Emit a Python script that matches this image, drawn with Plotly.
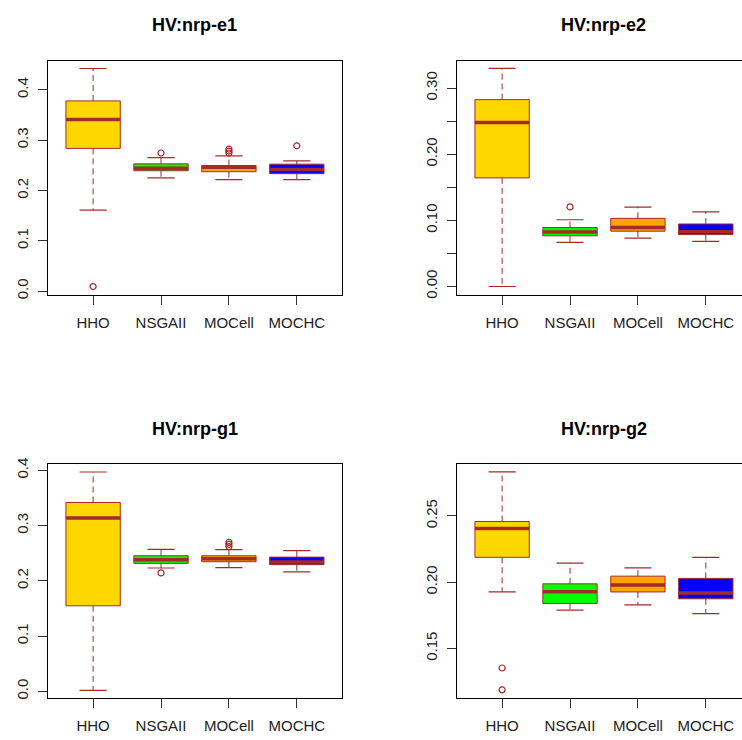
import plotly.graph_objects as go

# ---------------- data ----------------
ALGOS = ["HHO", "NSGAII", "MOCell", "MOCHC"]
TITLES = ["HV:nrp-e1", "HV:nrp-e2", "HV:nrp-g1", "HV:nrp-g2"]

# nrp-e1
e1_low = [0.161, 0.2249, 0.2216, 0.2216]
e1_q1 = [0.2837, 0.2392, 0.2373, 0.2333]
e1_med = [0.341, 0.2441, 0.2463, 0.2415]
e1_q3 = [0.378, 0.2529, 0.2496, 0.2523]
e1_up = [0.4425, 0.2653, 0.2686, 0.2588]
e1_out = [[0.009], [0.2745], [0.2745, 0.2784, 0.2824], [0.2888]]

# nrp-e2
e2_low = [0.0, 0.0666, 0.0731, 0.0681]
e2_q1 = [0.1642, 0.0766, 0.0836, 0.0785]
e2_med = [0.2478, 0.0825, 0.0890, 0.0828]
e2_q3 = [0.2825, 0.0891, 0.1030, 0.0945]
e2_up = [0.3298, 0.1009, 0.1199, 0.1128]
e2_out = [[], [0.1203], [], []]

# nrp-g1
g1_low = [0.0018, 0.2232, 0.2239, 0.2161]
g1_q1 = [0.1548, 0.2316, 0.2346, 0.2293]
g1_med = [0.3137, 0.2382, 0.2400, 0.2340]
g1_q3 = [0.3418, 0.2454, 0.2454, 0.2429]
g1_up = [0.397, 0.2571, 0.2566, 0.2548]
g1_out = [[], [0.2143], [0.2620, 0.2661, 0.2696], []]

# nrp-g2
g2_low = [0.1927, 0.1790, 0.1830, 0.1763]
g2_q1 = [0.2188, 0.1840, 0.1927, 0.1875]
g2_med = [0.2406, 0.1929, 0.1979, 0.1918]
g2_q3 = [0.2458, 0.1988, 0.2046, 0.2029]
g2_up = [0.2833, 0.2145, 0.2108, 0.2188]
g2_out = [[0.1353, 0.1188], [], [], []]

# y ticks per panel
e1_ticks = [0.0, 0.1, 0.2, 0.3, 0.4]
e1_ticktext = ["0.0", "0.1", "0.2", "0.3", "0.4"]
e2_ticks = [0.0, 0.05, 0.10, 0.15, 0.20, 0.25, 0.30]
e2_ticktext = ["0.00", "", "0.10", "", "0.20", "", "0.30"]
g1_ticks = [0.0, 0.1, 0.2, 0.3, 0.4]
g1_ticktext = ["0.0", "0.1", "0.2", "0.3", "0.4"]
g2_ticks = [0.15, 0.20, 0.25]
g2_ticktext = ["0.15", "0.20", "0.25"]

# ---------------- style ----------------
FILLS = ["#FFD700", "#00FF00", "#FFA500", "#0000FF"]
BROWN = "#A52A2A"
FONT = "Liberation Sans, Arial, sans-serif"
BOXW = 0.8
STAPLEW = 0.4
W, H = 742, 740

panels = [
    dict(low=e1_low, q1=e1_q1, med=e1_med, q3=e1_q3, up=e1_up, out=e1_out,
         ticks=e1_ticks, ticktext=e1_ticktext, yr=[-0.0073, 0.4575]),
    dict(low=e2_low, q1=e2_q1, med=e2_med, q3=e2_q3, up=e2_up, out=e2_out,
         ticks=e2_ticks, ticktext=e2_ticktext, yr=[-0.0125, 0.341]),
    dict(low=g1_low, q1=g1_q1, med=g1_med, q3=g1_q3, up=g1_up, out=g1_out,
         ticks=g1_ticks, ticktext=g1_ticktext, yr=[-0.0125, 0.4114]),
    dict(low=g2_low, q1=g2_q1, med=g2_med, q3=g2_q3, up=g2_up, out=g2_out,
         ticks=g2_ticks, ticktext=g2_ticktext, yr=[0.1125, 0.2892]),
]

# layout geometry in pixels (left, right, top, bottom)
geo = [
    (48.3, 341.7, 55.7, 292.7),
    (457.3, 742.0, 55.7, 292.7),
    (48.3, 341.7, 464.3, 701.7),
    (457.3, 742.0, 464.3, 701.7),
]
XUNIT = 67.9  # pixels per category unit
title_y = [19, 19, 429, 429]

fig = go.Figure()
pos = [1, 2, 3, 4]

for k, p in enumerate(panels):
    xa = "x" if k == 0 else f"x{k+1}"
    ya = "y" if k == 0 else f"y{k+1}"
    # boxes
    fig.add_trace(go.Bar(
        x=pos, y=[b - a for a, b in zip(p["q1"], p["q3"])], base=p["q1"],
        width=BOXW, marker=dict(color=FILLS, line=dict(color=BROWN, width=1)),
        xaxis=xa, yaxis=ya, showlegend=False, hoverinfo="skip"))
    # whiskers (dashed)
    wx, wy = [], []
    for i, x in enumerate(pos):
        wx += [x, x, None, x, x, None]
        wy += [p["q3"][i], p["up"][i], None, p["q1"][i], p["low"][i], None]
    fig.add_trace(go.Scatter(x=wx, y=wy, mode="lines",
                             line=dict(color=BROWN, width=1, dash="6px,4px"),
                             xaxis=xa, yaxis=ya, showlegend=False, hoverinfo="skip"))
    # staples
    sx, sy = [], []
    for i, x in enumerate(pos):
        for v in (p["up"][i], p["low"][i]):
            sx += [x - STAPLEW / 2, x + STAPLEW / 2, None]
            sy += [v, v, None]
    fig.add_trace(go.Scatter(x=sx, y=sy, mode="lines",
                             line=dict(color=BROWN, width=1.2),
                             xaxis=xa, yaxis=ya, showlegend=False, hoverinfo="skip"))
    # medians
    mx, my = [], []
    for i, x in enumerate(pos):
        mx += [x - BOXW / 2, x + BOXW / 2, None]
        my += [p["med"][i], p["med"][i], None]
    fig.add_trace(go.Scatter(x=mx, y=my, mode="lines",
                             line=dict(color=BROWN, width=3.5),
                             xaxis=xa, yaxis=ya, showlegend=False, hoverinfo="skip"))
    # outliers
    ox, oy = [], []
    for i, x in enumerate(pos):
        for v in p["out"][i]:
            ox.append(x)
            oy.append(v)
    if ox:
        fig.add_trace(go.Scatter(x=ox, y=oy, mode="markers",
                                 marker=dict(symbol="circle-open", size=6,
                                             color=BROWN, line=dict(width=1.2)),
                                 xaxis=xa, yaxis=ya, showlegend=False, hoverinfo="skip"))

    l, r, t, b = geo[k]
    xr = [0.34, 0.34 + (r - l) / XUNIT]
    full_box = r < W - 1
    axkey_x = "xaxis" if k == 0 else f"xaxis{k+1}"
    axkey_y = "yaxis" if k == 0 else f"yaxis{k+1}"
    fig.layout[axkey_x] = dict(
        domain=[l / W, r / W], range=xr, anchor=ya,
        tickvals=pos, ticktext=ALGOS, ticks="outside", ticklen=9,
        tickcolor="#333", showline=True, linecolor="black", linewidth=1.2,
        mirror=True, showgrid=False, zeroline=False, fixedrange=True,
        ticklabelstandoff=5,
        tickfont=dict(family=FONT, size=15, color="#222"))
    fig.layout[axkey_y] = dict(
        domain=[1 - b / H, 1 - t / H], range=p["yr"], anchor=xa,
        tickvals=p["ticks"], ticktext=p["ticktext"], ticks="outside", ticklen=9,
        tickcolor="#333", tickangle=-90, showline=True, linecolor="black",
        linewidth=1.2, mirror=full_box, showgrid=False, zeroline=False,
        fixedrange=True, ticklabelstandoff=4,
        tickfont=dict(family=FONT, size=15, color="#222"))
    cx = (l + l + 4.32 * XUNIT) / 2
    fig.add_annotation(text=f"<b>{TITLES[k]}</b>", xref="paper", yref="paper",
                       x=cx / W, y=1 - title_y[k] / H, xanchor="center",
                       yanchor="middle", showarrow=False,
                       font=dict(family=FONT, size=18, color="black"))

fig.update_layout(width=W, height=H, margin=dict(l=0, r=0, t=0, b=0),
                  paper_bgcolor="white", plot_bgcolor="white",
                  barmode="overlay", showlegend=False)

fig.write_html("out.html")
